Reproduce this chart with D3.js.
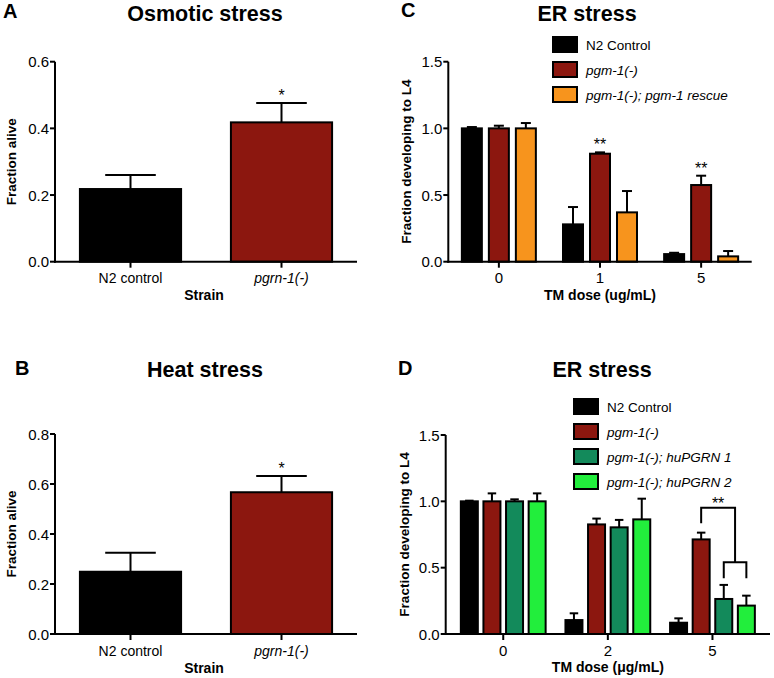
<!DOCTYPE html>
<html>
<head>
<meta charset="utf-8">
<script src="https://cdn.jsdelivr.net/npm/d3@7"></script>
<style>
  body { margin: 0; background: #fff; }
  svg { font-family: "Liberation Sans", Arial, sans-serif; }
</style>
</head>
<body>
<div id="chart"></div>
<script>
// Panels A/B: survival by strain
const strains = ['N2 control', 'pgrn-1(-)'];
const osmoticMean = [0.218, 0.418];
const osmoticErr = [0.260, 0.476];
const heatMean = [0.249, 0.567];
const heatErr = [0.325, 0.632];

// Panel C: ER stress, rescue
const doseC = ['0', '1', '5'];
const seriesC = ['N2 Control', 'pgm-1(-)', 'pgm-1(-); pgm-1 rescue'];
const meanC = [
    [1.00, 0.28, 0.057],
    [1.00, 0.81, 0.575],
    [1.00, 0.37, 0.04]
];
const errC = [
    [1.01, 0.41, 0.067],
    [1.02, 0.82, 0.645],
    [1.04, 0.53, 0.08]
];
const starsC = [null, '**', '**'];

// Panel D: ER stress, human PGRN
const doseD = ['0', '2', '5'];
const seriesD = ['N2 Control', 'pgm-1(-)', 'pgm-1(-); huPGRN 1', 'pgm-1(-); huPGRN 2'];
const meanD = [
    [1.00, 0.105, 0.085],
    [1.00, 0.826, 0.713],
    [1.00, 0.804, 0.264],
    [1.00, 0.864, 0.214]
];
const errD = [
    [1.005, 0.156, 0.118],
    [1.06, 0.87, 0.764],
    [1.015, 0.86, 0.37],
    [1.06, 1.02, 0.289]
];
// bracket levels (data units): left leg bottom, top bar, sub bracket, sub legs bottom
const bracketD = [0.834, 0.952, 0.54, 0.42];

const colors = ['#000000', '#8c170f', '#f7941d'];
const colorsD = ['#000000', '#8c170f', '#138a5b', '#22ee3c'];

const svg = d3.select('#chart').append('svg')
    .attr('width', 774)
    .attr('height', 678);

const drawAxes = (g, x, y, x0, x1, yTicks, fmt, cats, italicCats) => {
    const [b, t] = y.range();
    g.append('line').attr('x1', x0).attr('x2', x0).attr('y1', t).attr('y2', b + 1)
        .attr('stroke', '#000').attr('stroke-width', 2);
    g.append('line').attr('x1', x0 - 1).attr('x2', x1).attr('y1', b).attr('y2', b)
        .attr('stroke', '#000').attr('stroke-width', 2);
    yTicks.forEach(v => {
        g.append('line').attr('x1', x0 - 5).attr('x2', x0).attr('y1', y(v)).attr('y2', y(v))
            .attr('stroke', '#000').attr('stroke-width', 2);
        g.append('text').attr('x', x0 - 6).attr('y', y(v) + 5.5)
            .attr('text-anchor', 'end').style('font-size', '15px').text(fmt(v));
    });
    cats.forEach(c => {
        g.append('line').attr('x1', x(c)).attr('x2', x(c)).attr('y1', b).attr('y2', b + 6)
            .attr('stroke', '#000').attr('stroke-width', 2);
        g.append('text').attr('x', x(c)).attr('y', b + 21.5)
            .attr('text-anchor', 'middle').style('font-size', italicCats ? '14px' : '15px')
            .style('font-style', italicCats && c.includes('(-)') ? 'italic' : 'normal')
            .text(c);
    });
};

const yLabel = (g, x, yc, text) => {
    g.append('text')
        .attr('transform', `translate(${x},${yc}) rotate(-90)`)
        .attr('text-anchor', 'middle')
        .style('font-size', '13.5px').style('font-weight', 'bold')
        .text(text);
};

const titles = (g, letter, lx, ly, title, tx, ty) => {
    g.append('text').attr('x', lx).attr('y', ly)
        .style('font-size', '20px').style('font-weight', 'bold').text(letter);
    g.append('text').attr('x', tx).attr('y', ty).attr('text-anchor', 'middle')
        .style('font-size', '21.5px').style('font-weight', 'bold').text(title);
};

const errBar = (g, cx, yTop, yErr, w) => {
    g.append('line').attr('x1', cx).attr('x2', cx).attr('y1', yTop).attr('y2', yErr)
        .attr('stroke', '#000').attr('stroke-width', 2);
    g.append('line').attr('x1', cx - w / 2).attr('x2', cx + w / 2).attr('y1', yErr).attr('y2', yErr)
        .attr('stroke', '#000').attr('stroke-width', 2);
};

const star = (g, x, y, s) => {
    g.append('text').attr('x', x).attr('y', y)
        .attr('text-anchor', 'middle').style('font-size', '16px').text(s);
};

// Simple two-bar panel (A, B)
const strainPanel = (top, letter, letterX, title, yMax, yTicks, means, errs) => {
    const g = svg.append('g');
    const x0 = 55, x1 = 357;
    const yTop = top + 61.7 - (letter === 'B' ? -42.3 : 0);
    const yBot = top + 261.7 + (letter === 'B' ? 42.3 : 0);
    const x = d3.scalePoint().domain(strains).range([x0, x1]).padding(0.5);
    const y = d3.scaleLinear().domain([0, yMax]).range([yBot, yTop]);
    const bw = x.step() * 0.67;

    strains.forEach((s, i) => {
        errBar(g, x(s), y(means[i]), y(errs[i]), bw / 2);
        g.append('rect')
            .attr('x', x(s) - bw / 2).attr('y', y(means[i]))
            .attr('width', bw).attr('height', y(0) - y(means[i]))
            .attr('fill', colors[i]).attr('stroke', '#000').attr('stroke-width', 2);
    });
    star(g, x(strains[1]), y(errs[1]) - 2, '*');

    drawAxes(g, x, y, x0, x1, yTicks, d3.format('.1f'), strains, true);
    g.append('text').attr('x', 204).attr('y', yBot + 38.5).attr('text-anchor', 'middle')
        .style('font-size', '14px').style('font-weight', 'bold').text('Strain');
    yLabel(g, 16, (yTop + yBot) / 2, 'Fraction alive');
    titles(g, letter, letterX, top + (letter === 'B' ? 45 : 18), title, 205, top + (letter === 'B' ? 46.7 : 21));
};

strainPanel(0, 'A', 3, 'Osmotic stress', 0.6, [0, 0.2, 0.4, 0.6], osmoticMean, osmoticErr);
strainPanel(330, 'B', 15, 'Heat stress', 0.8, [0, 0.2, 0.4, 0.6, 0.8], heatMean, heatErr);

// Grouped dose panels (C, D)
const dosePanel = (opt) => {
    const g = svg.append('g');
    const x = d3.scalePoint().domain(opt.doses).range([opt.x0, opt.x1]).padding(opt.pad);
    const y = d3.scaleLinear().domain([0, 1.5]).range([opt.yBot, opt.yTop]);
    const n = opt.series.length;
    const off = (j) => (j - (n - 1) / 2 - opt.shift) * opt.step;

    opt.series.forEach((s, j) => {
        opt.doses.forEach((d, i) => {
            const cx = x(d) + off(j);
            errBar(g, cx, y(opt.mean[j][i]), y(opt.err[j][i]), opt.bw / 2);
            g.append('rect')
                .attr('x', cx - opt.bw / 2).attr('y', y(opt.mean[j][i]))
                .attr('width', opt.bw).attr('height', y(0) - y(opt.mean[j][i]))
                .attr('fill', opt.colors[j]).attr('stroke', '#000').attr('stroke-width', 2);
        });
    });

    drawAxes(g, x, y, opt.x0, opt.x1, [0, 0.5, 1, 1.5], d3.format('.1f'), opt.doses, false);
    g.append('text').attr('x', x(opt.doses[1])).attr('y', opt.yBot + 38)
        .attr('text-anchor', 'middle').style('font-size', '14px').style('font-weight', 'bold')
        .text(opt.xLabel);
    yLabel(g, opt.x0 - 37, (opt.yTop + opt.yBot) / 2, 'Fraction developing to L4');
    titles(g, opt.letter, opt.lx, opt.ly, 'ER stress', opt.tx, opt.ty);

    // legend
    opt.series.forEach((s, j) => {
        const cy = opt.legY + j * 25;
        g.append('rect').attr('x', opt.legX).attr('y', cy - 8).attr('width', 24).attr('height', 15)
            .attr('fill', opt.colors[j]).attr('stroke', '#000').attr('stroke-width', 2);
        g.append('text').attr('x', opt.legX + 33).attr('y', cy + 5)
            .style('font-size', '13.5px').style('font-style', j === 0 ? 'normal' : 'italic')
            .text(s);
    });
    return { g, x, y, off };
};

const pc = dosePanel({
    letter: 'C', lx: 401, ly: 17, tx: 587, ty: 21,
    doses: doseC, series: seriesC, mean: meanC, err: errC, colors: colors,
    x0: 448.3, x1: 751.7, pad: 0.5, yTop: 61.7, yBot: 261.7,
    bw: 20, step: 27, shift: 0, legX: 553, legY: 45,
    xLabel: 'TM dose (ug/mL)'
});
starsC.forEach((s, i) => {
    if (!s) return;
    star(pc.g, pc.x(doseC[i]) + pc.off(1), pc.y(errC[1][i]) - 2, s);
});

const pd = dosePanel({
    letter: 'D', lx: 398, ly: 375, tx: 602, ty: 377,
    doses: doseD, series: seriesD, mean: meanD, err: errD, colors: colorsD,
    x0: 445.7, x1: 770, pad: 0.55, yTop: 435, yBot: 634,
    bw: 17, step: 22.6, shift: 0, legX: 574, legY: 407,
    xLabel: 'TM dose (\u03bcg/mL)'
});

// significance bracket, dose 5: pgm-1(-) vs both huPGRN lines
const d5 = doseD[2];
const xr = pd.x(d5) + pd.off(1);
const xg1 = pd.x(d5) + pd.off(2);
const xg2 = pd.x(d5) + pd.off(3);
const xm = (xg1 + xg2) / 2;
const [legBot, barTop, subTop, subBot] = bracketD.map(pd.y);
pd.g.append('path')
    .attr('d', `M${xr},${legBot}V${barTop}H${xm}V${subTop}`)
    .attr('fill', 'none').attr('stroke', '#000').attr('stroke-width', 2);
pd.g.append('path')
    .attr('d', `M${xg1},${subBot}V${subTop}H${xg2}V${subBot}`)
    .attr('fill', 'none').attr('stroke', '#000').attr('stroke-width', 2);
star(pd.g, (xr + xm) / 2, barTop + 1, '**');
</script>
</body>
</html>
